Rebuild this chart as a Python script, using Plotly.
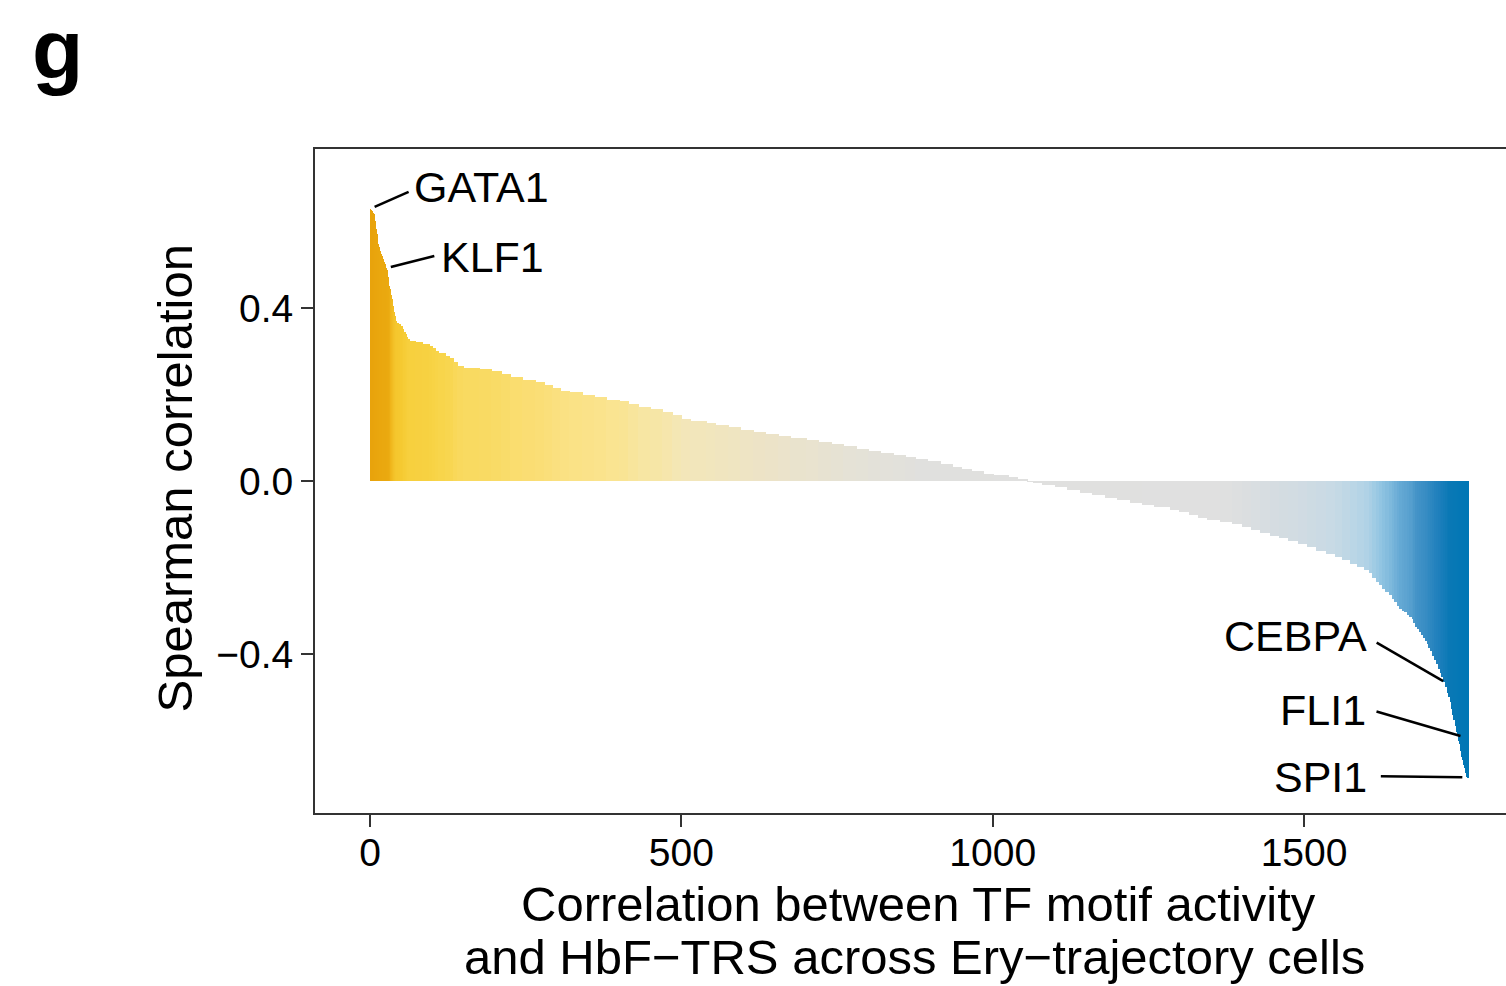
import plotly.graph_objects as go

# ---------------- data ----------------
# Sorted Spearman correlations, stored as staircase steps: (value, number of TFs at that value)
step_values = [
    0.629, 0.627, 0.625, 0.621, 0.619, 0.617, 0.612, 0.600, 0.590, 0.582,
    0.572, 0.556, 0.548, 0.542, 0.537, 0.532, 0.528, 0.524, 0.520, 0.516,
    0.513, 0.510, 0.506, 0.502, 0.498, 0.493, 0.488, 0.482, 0.472, 0.462,
    0.452, 0.444, 0.437, 0.429, 0.421, 0.413, 0.405, 0.397, 0.390, 0.381,
    0.374, 0.370,
    0.366, 0.362, 0.358, 0.352, 0.345, 0.339, 0.334, 0.328, 0.324, 0.321,
    0.317, 0.313, 0.307, 0.300, 0.295, 0.290, 0.284, 0.274, 0.266, 0.262,
    0.258, 0.254, 0.247, 0.240, 0.234, 0.229, 0.223, 0.215, 0.209, 0.205,
    0.200, 0.194, 0.188, 0.185, 0.177, 0.170, 0.166, 0.160, 0.152, 0.144,
    0.139, 0.135, 0.130, 0.125, 0.119, 0.114, 0.109, 0.104, 0.099, 0.095,
    0.090, 0.086, 0.080, 0.075, 0.070, 0.065, 0.061, 0.056, 0.051, 0.046,
    0.040, 0.033, 0.028, 0.022, 0.017, 0.013, 0.009, 0.004,
    -0.002, -0.005, -0.010, -0.015, -0.021, -0.027, -0.033, -0.039, -0.045, -0.050,
    -0.055, -0.060, -0.066, -0.072, -0.079, -0.085, -0.090, -0.095, -0.100, -0.107,
    -0.114, -0.120, -0.127, -0.132, -0.138, -0.145, -0.153, -0.161, -0.169, -0.176,
    -0.183, -0.191, -0.198, -0.205, -0.213, -0.224, -0.233, -0.241, -0.249, -0.256,
    -0.264, -0.272, -0.280, -0.288, -0.295, -0.300, -0.304, -0.309, -0.314, -0.320,
    -0.328, -0.337, -0.343, -0.349, -0.356, -0.363, -0.369, -0.376, -0.385, -0.394,
    -0.404, -0.414, -0.424, -0.434, -0.444, -0.454, -0.465, -0.477, -0.490, -0.500,
    -0.512, -0.526, -0.540, -0.553,
    -0.560, -0.566, -0.573, -0.580, -0.586, -0.593, -0.600, -0.608, -0.616, -0.624,
    -0.631, -0.638, -0.645, -0.651, -0.657, -0.663, -0.669, -0.676, -0.681, -0.684,
    -0.687,
]
step_counts = [
    1, 1, 1, 1, 1, 1, 1, 1, 1, 1,
    1, 1, 1, 1, 1, 1, 1, 1, 1, 1,
    1, 1, 1, 1, 1, 1, 1, 1, 1, 1,
    1, 1, 1, 1, 1, 1, 1, 1, 1, 1,
    1, 1,
    3, 4, 3, 2, 2, 2, 2, 3, 9, 12,
    11, 5, 4, 6, 10, 8, 6, 6, 10, 25,
    20, 15, 15, 20, 20, 15, 12, 13, 15, 20,
    20, 20, 20, 15, 15, 20, 20, 15, 15, 15,
    25, 15, 20, 20, 20, 20, 20, 20, 25, 20,
    20, 20, 20, 20, 20, 20, 20, 15, 20, 20,
    20, 15, 15, 20, 15, 25, 15, 15,
    10, 15, 20, 20, 20, 20, 20, 20, 20, 20,
    20, 25, 15, 15, 15, 15, 20, 20, 15, 15,
    15, 15, 15, 15, 15, 15, 15, 15, 15, 12,
    12, 12, 10, 8, 6, 6, 5, 5, 5, 5,
    5, 4, 4, 4, 4, 4, 4, 4, 4, 3,
    3, 3, 3, 3, 3, 3, 3, 3, 3, 3,
    3, 3, 3, 3, 3, 3, 3, 3, 2, 2,
    2, 2, 2, 2,
    1, 1, 1, 1, 1, 1, 1, 1, 1, 1,
    1, 1, 1, 1, 1, 1, 1, 1, 1, 1,
    1,
]

label_names = ["GATA1", "KLF1", "CEBPA", "FLI1", "SPI1"]
label_ranks = [1, 27, 1725, 1748, 1763]

x_tickvals = [0, 500, 1000, 1500]
y_tickvals = [-0.4, 0.0, 0.4]
y_ticktext = ["\u22120.4", "0.0", "0.4"]

x_title_lines = ["Correlation between TF motif activity",
                 "and HbF\u2212TRS across Ery\u2212trajectory cells"]
y_title = "Spearman correlation"
panel_letter = "g"

# ---------------- expand steps into one bar per TF ----------------
corr = []
for v, c in zip(step_values, step_counts):
    corr.extend([v] * c)
ranks = list(range(1, len(corr) + 1))

# ---------------- styling ----------------
FONT = "Liberation Sans, Arial, Helvetica, sans-serif"
W, H = 1506, 986
ML, MR, MT, MB = 315, 0, 149, 173
PW, PH = W - ML - MR, H - MT - MB
XR = [-88.3, 1824.3]
YR = [-0.7676, 0.7676]
pxx = PW / (XR[1] - XR[0])
pxy = PH / (YR[1] - YR[0])

pal = [
    (-0.69, "#0077B5"), (-0.50, "#0A78B5"), (-0.42, "#2281BD"), (-0.34, "#4393C7"),
    (-0.29, "#68ABD5"), (-0.24, "#93C6E2"), (-0.20, "#B4D4E6"), (-0.17, "#C8DAE5"),
    (-0.13, "#D4DCE1"), (-0.09, "#E0E0E0"), (0.05, "#E0E0DE"), (0.08, "#E5E2D6"),
    (0.11, "#ECE3C8"), (0.15, "#F4E7B6"), (0.19, "#FAE48F"), (0.22, "#FADF7C"),
    (0.26, "#F9DA62"), (0.30, "#F8D448"), (0.36, "#F5C930"), (0.42, "#F0B81E"),
    (0.45, "#EBAA10"), (0.63, "#E8A30C"),
]
cmin, cmax = pal[0][0], pal[-1][0]
colorscale = [[(v - cmin) / (cmax - cmin), c] for v, c in pal]

fig = go.Figure()
fig.add_trace(go.Bar(
    x=ranks, y=corr, width=1.0,
    marker=dict(color=corr, colorscale=colorscale, cmin=cmin, cmax=cmax,
                line=dict(width=0)),
    showlegend=False, hoverinfo="x+y",
))

# label pointers: offsets in screen pixels (dx right, dy down) relative to the bar top
label_style = {
    "GATA1": dict(l0=(4, -2), l1=(38, -17), t=(41, -22), anchor="left"),
    "KLF1": dict(l0=(4, -3), l1=(47.5, -14), t=(52.5, -13), anchor="left"),
    "CEBPA": dict(l0=(-1, -1), l1=(-67.5, -39.5), t=(-75.5, -46), anchor="right"),
    "FLI1": dict(l0=(2, -1.5), l1=(-82, -26), t=(-90, -27.5), anchor="right"),
    "SPI1": dict(l0=(-5.5, -1), l1=(-87, -2), t=(-99, -1), anchor="right"),
}
shapes = []
annotations = []
for name, r in zip(label_names, label_ranks):
    st = label_style[name]
    v = corr[r - 1]
    (a, b), (c, d) = st["l0"], st["l1"]
    shapes.append(dict(type="line", xref="x", yref="y",
                       x0=r + a / pxx, y0=v - b / pxy,
                       x1=r + c / pxx, y1=v - d / pxy,
                       line=dict(color="black", width=2.5)))
    annotations.append(dict(x=r, y=v, xref="x", yref="y", text=name, showarrow=False,
                            xanchor=st["anchor"], yanchor="middle",
                            xshift=st["t"][0], yshift=-st["t"][1],
                            font=dict(family=FONT, size=43, color="black")))

def px_to_paper(px, py):
    return (px - ML) / PW, (H - MB - py) / PH

for text, (cx, cy) in zip(x_title_lines, [(918.5, 904), (914.5, 957)]):
    x, y = px_to_paper(cx, cy)
    annotations.append(dict(x=x, y=y, xref="paper", yref="paper", text=text,
                            showarrow=False, xanchor="center", yanchor="middle",
                            font=dict(family=FONT, size=49, color="black")))
x, y = px_to_paper(175, 478.5)
annotations.append(dict(x=x, y=y, xref="paper", yref="paper", text=y_title,
                        showarrow=False, xanchor="center", yanchor="middle", textangle=-90,
                        font=dict(family=FONT, size=49, color="black")))
# panel letter, kept fully inside the page
x, y = px_to_paper(30, 1)
annotations.append(dict(x=x, y=y, xref="paper", yref="paper", text="<b>" + panel_letter + "</b>",
                        showarrow=False, xanchor="left", yanchor="top",
                        font=dict(family=FONT, size=84, color="black")))

axis_common = dict(showgrid=False, zeroline=False, showline=True, linecolor="#333333",
                   linewidth=2, ticks="outside", ticklen=12, tickwidth=2,
                   tickcolor="#333333", tickfont=dict(family=FONT, size=39, color="black"))

fig.update_layout(
    width=W, height=H,
    margin=dict(l=ML, r=MR, t=MT, b=MB, pad=0),
    paper_bgcolor="white", plot_bgcolor="white",
    bargap=0,
    xaxis=dict(range=XR, tickvals=x_tickvals, mirror=True, ticklabelstandoff=-8,
               **axis_common),
    yaxis=dict(range=YR, tickvals=y_tickvals, ticktext=y_ticktext, **axis_common),
    shapes=shapes, annotations=annotations,
    font=dict(family=FONT),
)

fig.write_html("out.html")
